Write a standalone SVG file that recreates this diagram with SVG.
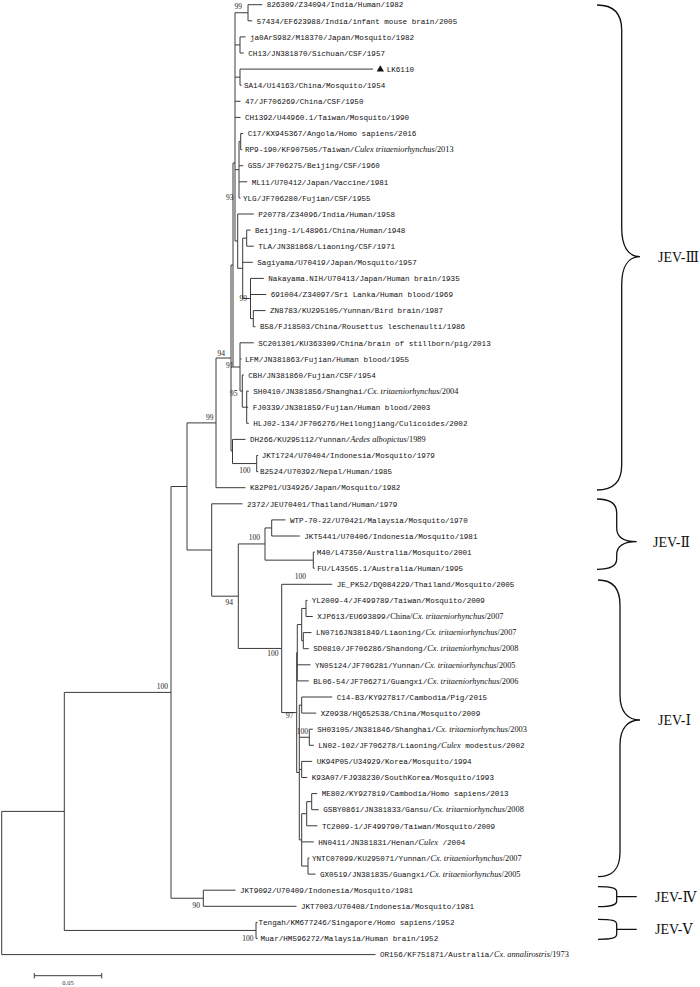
<svg xmlns="http://www.w3.org/2000/svg" width="700" height="987" viewBox="0 0 700 987">
<style>
.br{fill:none;stroke:#3a3a3a;stroke-width:1}
.t{font-family:"Liberation Mono",monospace;font-size:7.6px;fill:#111}
.i{font-family:"Liberation Serif",serif;font-style:italic;font-size:8.3px}
.s{font-family:"Liberation Serif",serif;font-size:8.3px}
.b{font-family:"Liberation Serif",serif;font-size:7.5px;fill:#222;text-anchor:end}
.cb{fill:none;stroke:#111;stroke-width:1.3}
.c{font-family:"Liberation Serif","DejaVu Serif","Noto Sans CJK SC",serif;font-size:14px;fill:#111}
</style>
<rect width="700" height="987" fill="#fff"/>
<g id="connectors">
<path class="br" d="M248,4.7H262.2 M248,20.8H252.2 M240,36.9H245.5 M240,53H243.8 M240,69.1H373 M240,85.2H241.5 M235,101.3H240.5 M235,117.4H240.5 M240.7,133.5H243.2 M240.7,149.6H242.2 M239,165.7H243.2 M239,181.8H247.2 M239,197.9H240.5 M237.7,214H253.8 M246.7,230.1H250.5 M246.7,246.2H253.8 M242.7,262.3H252.8 M250.5,278.4H263.8 M250.5,294.5H266.2 M253.3,310.6H265.5 M253.3,326.7H255.5 M240,342.8H253.8 M240,358.9H241.5 M242.3,375H243.8 M246.7,391.1H248.8 M246.7,407.2H248.2 M246.7,423.3H248.8 M232.5,439.4H245.5 M256.7,455.5H258.2 M256.7,471.6H258.2 M216,487.7H245.5 M211.7,503.8H242.5 M271.7,519.9H285.5 M271.7,536H299.8 M313.3,552.1H314.8 M313.3,568.2H314.8 M281.7,584.3H332.2 M306,600.4H307.5 M306,616.5H312.8 M303.3,632.6H311.5 M303.3,648.7H308.8 M297.3,664.8H310.5 M297.3,680.9H308.8 M301.7,697H332.2 M301.7,713.1H316.2 M309.3,729.2H312.8 M309.3,745.3H313.8 M301.7,761.4H312.2 M301.7,777.5H307.2 M311.7,793.6H317.2 M311.7,809.7H318.8 M306.7,825.8H317.5 M301.7,841.9H313.8 M308,858H309.5 M308,874.1H315.5 M203.3,890.2H235.5 M203.3,906.3H296.5 M256,922.4H257.5 M256,938.5H257.5 M1.7,954.6H375.5"/>
<path class="br" d="M235,12.75H248 M248,4.7V20.8 M235,44.95H240 M240,36.9V53 M235,77.15H240 M240,69.1V85.2 M235,12.75V241 M235,169.7H239 M239,141.55V197.9 M239,141.55H240.7 M240.7,133.5V149.6 M235,241H237.7 M237.7,214V268.3 M237.7,268.3H242.7 M242.7,238.15V298.5 M242.7,238.15H246.7 M246.7,230.1V246.2 M242.7,298.5H250.5 M250.5,278.4V318.65 M250.5,318.65H253.3 M253.3,310.6V326.7 M233,163H235 M233,163V367 M233,367H240 M240,342.8V391 M240,391H242.3 M242.3,375V407.2 M242.3,407.2H246.7 M246.7,391.1V423.3 M231,265H233 M231,265V451 M231,451H232.5 M232.5,439.4V463.55 M232.5,463.55H256.7 M256.7,455.5V471.6 M216,358H231 M216,358V487.7 M187,422.9H216 M187,422.9V550 M187,550H211.7 M211.7,503.8V596.2 M211.7,596.2H238.3 M238.3,543.95V648.45 M238.3,543.95H265 M238.3,648.45H281.7 M265,527.95V560.15 M265,527.95H271.7 M265,560.15H313.3 M271.7,519.9V536 M313.3,552.1V568.2 M281.7,584.3V712.6 M281.7,712.6H296.7 M296.7,652.7V772.5 M296.7,652.7H297.3 M296.7,772.5H299.3 M297.3,624.55V680.9 M297.3,624.55H301.7 M301.7,608.45V640.65 M301.7,608.45H306 M301.7,640.65H303.3 M306,600.4V616.5 M303.3,632.6V648.7 M299.3,705.05V839.9 M299.3,705.05H301.7 M299.3,737.25H309.3 M299.3,769.45H301.7 M299.3,839.9H301.7 M301.7,697V713.1 M309.3,729.2V745.3 M301.7,761.4V777.5 M301.7,813.7V866.05 M301.7,813.7H306.7 M301.7,866.05H308 M306.7,801.65V825.8 M306.7,801.65H311.7 M311.7,793.6V809.7 M308,858V874.1 M171,486.5H187 M171,486.5V898.25 M171,898.25H203.3 M203.3,890.2V906.3 M64.3,692.4H171 M64.3,692.4V930.45 M64.3,930.45H256 M256,922.4V938.5 M1.7,811.4H64.3 M1.7,811.4V954.6"/>
</g>
<g id="bootstrap">
<text class="b" x="242" y="8.5">99</text>
<text class="b" x="233.5" y="200">93</text>
<text class="b" x="247" y="301">99</text>
<text class="b" x="225" y="356">94</text>
<text class="b" x="233.5" y="368">91</text>
<text class="b" x="237.5" y="396">95</text>
<text class="b" x="213.5" y="419.5">99</text>
<text class="b" x="250.5" y="473">100</text>
<text class="b" x="260" y="540">100</text>
<text class="b" x="306" y="579">100</text>
<text class="b" x="233" y="604.5">94</text>
<text class="b" x="278.5" y="656">100</text>
<text class="b" x="293.5" y="718">97</text>
<text class="b" x="308" y="734">100</text>
<text class="b" x="168" y="689">100</text>
<text class="b" x="200" y="908">90</text>
<text class="b" x="253.5" y="941">100</text>
</g>
<g id="leaves">
<text id="n1" class="t" x="266.7" y="7.4">826309/Z34094/India/Human/1982</text>
<text id="n2" class="t" x="256.7" y="23.5">57434/EF623988/India/infant mouse brain/2005</text>
<text id="n3" class="t" x="250" y="39.6">ja0ArS982/M18370/Japan/Mosquito/1982</text>
<text id="n4" class="t" x="248.3" y="55.7">CH13/JN381870/Sichuan/CSF/1957</text>
<g id="n5"><polygon points="376.7,71.5 384,71.5 380.3,65.3" fill="#111"/><text class="t" x="386.7" y="71.8">LK6110</text></g>
<text id="n6" class="t" x="244" y="87.9">SA14/U14163/China/Mosquito/1954</text>
<text id="n7" class="t" x="245" y="104">47/JF706269/China/CSF/1950</text>
<text id="n8" class="t" x="245" y="120.1">CH1392/U44960.1/Taiwan/Mosquito/1990</text>
<text id="n9" class="t" x="247.7" y="136.2">C17/KX945367/Angola/Homo sapiens/2016</text>
<text id="n10" class="t" x="245" y="152.3">RP9-190/KF907505/Taiwan/<tspan class="i">Culex tritaeniorhynchus</tspan><tspan class="s">/2013</tspan></text>
<text id="n11" class="t" x="247.7" y="168.4">GSS/JF706275/Beijing/CSF/1960</text>
<text id="n12" class="t" x="251.7" y="184.5">ML11/U70412/Japan/Vaccine/1981</text>
<text id="n13" class="t" x="243" y="200.6">YLG/JF706280/Fujian/CSF/1955</text>
<text id="n14" class="t" x="258.3" y="216.7">P20778/Z34096/India/Human/1958</text>
<text id="n15" class="t" x="255" y="232.8">Beijing-1/L48961/China/Human/1948</text>
<text id="n16" class="t" x="258.3" y="248.9">TLA/JN381868/Liaoning/CSF/1971</text>
<text id="n17" class="t" x="257.3" y="265">Sagiyama/U70419/Japan/Mosquito/1957</text>
<text id="n18" class="t" x="268.3" y="281.1">Nakayama.NIH/U70413/Japan/Human brain/1935</text>
<text id="n19" class="t" x="270.7" y="297.2">691004/Z34097/Sri Lanka/Human blood/1969</text>
<text id="n20" class="t" x="270" y="313.3">ZN8783/KU295105/Yunnan/Bird brain/1987</text>
<text id="n21" class="t" x="260" y="329.4">B58/FJ18503/China/Rousettus leschenaulti/1986</text>
<text id="n22" class="t" x="258.3" y="345.5">SC201301/KU363309/China/brain of stillborn/pig/2013</text>
<text id="n23" class="t" x="245" y="361.6">LFM/JN381863/Fujian/Human blood/1955</text>
<text id="n24" class="t" x="248.3" y="377.7">CBH/JN381860/Fujian/CSF/1954</text>
<text id="n25" class="t" x="253.3" y="393.8">SH0410/JN381856/Shanghai/<tspan class="i">Cx. tritaeniorhynchus</tspan><tspan class="s">/2004</tspan></text>
<text id="n26" class="t" x="252.7" y="409.9">FJ0339/JN381859/Fujian/Human blood/2003</text>
<text id="n27" class="t" x="253.3" y="426">HLJ02-134/JF706276/Heilongjiang/Culicoides/2002</text>
<text id="n28" class="t" x="250" y="442.1">DH266/KU295112/Yunnan/<tspan class="i">Aedes albopictus</tspan><tspan class="s">/1989</tspan></text>
<text id="n29" class="t" x="261.7" y="458.2">JKT1724/U70404/Indonesia/Mosquito/1979</text>
<text id="n30" class="t" x="260" y="474.3">B2524/U70392/Nepal/Human/1985</text>
<text id="n31" class="t" x="250" y="490.4">K82P01/U34926/Japan/Mosquito/1982</text>
<text id="n32" class="t" x="247" y="506.5">2372/JEU70401/Thailand/Human/1979</text>
<text id="n33" class="t" x="290" y="522.6">WTP-70-22/U70421/Malaysia/Mosquito/1970</text>
<text id="n34" class="t" x="304.3" y="538.7">JKT5441/U70406/Indonesia/Mosquito/1981</text>
<text id="n35" class="t" x="316.7" y="554.8">M40/L47350/Australia/Mosquito/2001</text>
<text id="n36" class="t" x="317.3" y="570.9">FU/L43565.1/Australia/Human/1995</text>
<text id="n37" class="t" x="336.7" y="587">JE_PK52/DQ084229/Thailand/Mosquito/2005</text>
<text id="n38" class="t" x="311.7" y="603.1">YL2009-4/JF499789/Taiwan/Mosquito/2009</text>
<text id="n39" class="t" x="317.3" y="619.2">XJP613/EU693899/<tspan class="s">China/</tspan><tspan class="i">Cx. tritaeniorhynchus</tspan><tspan class="s">/2007</tspan></text>
<text id="n40" class="t" x="316" y="635.3">LN0716JN381849/Liaoning/<tspan class="i">Cx. tritaeniorhynchus</tspan><tspan class="s">/2007</tspan></text>
<text id="n41" class="t" x="313.3" y="651.4">SD0810/JF706286/Shandong/<tspan class="i">Cx. tritaeniorhynchus</tspan><tspan class="s">/2008</tspan></text>
<text id="n42" class="t" x="315" y="667.5">YN05124/JF706281/Yunnan/<tspan class="i">Cx. tritaeniorhynchus</tspan><tspan class="s">/2005</tspan></text>
<text id="n43" class="t" x="313.3" y="683.6">BL06-54/JF706271/Guangxi/<tspan class="i">Cx. tritaeniorhynchus</tspan><tspan class="s">/2006</tspan></text>
<text id="n44" class="t" x="336.7" y="699.7">C14-B3/KY927817/Cambodia/Pig/2015</text>
<text id="n45" class="t" x="320.7" y="715.8">XZ0938/HQ652538/China/Mosquito/2009</text>
<text id="n46" class="t" x="317.3" y="731.9">SH03105/JN381846/Shanghai/<tspan class="i">Cx. tritaeniorhynchus</tspan><tspan class="s">/2003</tspan></text>
<text id="n47" class="t" x="318.3" y="748">LN02-102/JF706278/Liaoning/<tspan class="i">Culex</tspan> modestus/2002</text>
<text id="n48" class="t" x="316.7" y="764.1">UK94P05/U34929/Korea/Mosquito/1994</text>
<text id="n49" class="t" x="311.7" y="780.2">K93A07/FJ938230/SouthKorea/Mosquito/1993</text>
<text id="n50" class="t" x="321.7" y="796.3">ME802/KY927819/Cambodia/Homo sapiens/2013</text>
<text id="n51" class="t" x="323.3" y="812.4">GSBY0861/JN381833/Gansu/<tspan class="i">Cx. tritaeniorhynchus</tspan><tspan class="s">/2008</tspan></text>
<text id="n52" class="t" x="322" y="828.5">TC2009-1/JF499790/Taiwan/Mosquito/2009</text>
<text id="n53" class="t" x="318.3" y="844.6">HN0411/JN381831/Henan/<tspan class="i">Culex</tspan> /2004</text>
<text id="n54" class="t" x="312" y="860.7">YNTC07099/KU295071/Yunnan/<tspan class="i">Cx. tritaeniorhynchus</tspan><tspan class="s">/2007</tspan></text>
<text id="n55" class="t" x="320" y="876.8">GX0519/JN381835/Guangxi/<tspan class="i">Cx. tritaeniorhynchus</tspan><tspan class="s">/2005</tspan></text>
<text id="n56" class="t" x="240" y="892.9">JKT9092/U70409/Indonesia/Mosquito/1981</text>
<text id="n57" class="t" x="301" y="909">JKT7003/U70408/Indonesia/Mosquito/1981</text>
<text id="n58" class="t" x="258.5" y="925.1">Tengah/KM677246/Singapore/Homo sapiens/1952</text>
<text id="n59" class="t" x="260.5" y="941.2">Muar/HM596272/Malaysia/Human brain/1952</text>
<text id="n60" class="t" x="380" y="957.3">OR156/KF751871/Australia/<tspan class="i">Cx. annalirostris</tspan><tspan class="s">/1973</tspan></text>
</g>
<g id="clades">
<g id="jev3"><path class="cb" d="M597,5 C612,5 621.7,12 621.7,30 V228 C621.7,246 628,256.7 640,256.7 C628,256.7 621.7,267 621.7,285 V465 C621.7,483 612,490 597,490"/><text class="c" x="658" y="261.5">JEV-Ⅲ</text></g>
<g id="jev2"><path class="cb" d="M597,499 C610,499 616.7,503 616.7,513 V528 C616.7,537 624,541.7 636.7,541.7 C624,541.7 616.7,546 616.7,555 V559 C616.7,566 610,569.3 597,569.3"/><text class="c" x="653" y="546.5">JEV-Ⅱ</text></g>
<g id="jev1"><path class="cb" d="M598,580 C613,580 620,588 620,605 V695 C620,712 628,720 640,720 C628,720 620,728 620,745 V852 C620,869 613,876.7 598,876.7"/><text class="c" x="658" y="725">JEV-Ⅰ</text></g>
<g id="jev4"><path class="cb" d="M598,886.7 C612,886.7 616.7,888 616.7,892 V901 C616.7,905 612,906.7 598,906.7 M616.7,896.7H636.7"/><text class="c" x="655" y="901.5">JEV-Ⅳ</text></g>
<g id="jev5"><path class="cb" d="M598,919.3 C612,919.3 616.7,920.5 616.7,924.5 V934 C616.7,938 612,939.3 598,939.3 M616.7,929.3H636.7"/><text class="c" x="655" y="934">JEV-Ⅴ</text></g>
</g>
<g id="scale">
<path class="br" d="M34.3,975.7H101.7 M34.3,973V978.5 M101.7,973V978.5"/>
<text x="68" y="985" font-family="Liberation Serif, serif" font-size="6.5" fill="#333" text-anchor="middle">0.05</text>
</g>
</svg>
